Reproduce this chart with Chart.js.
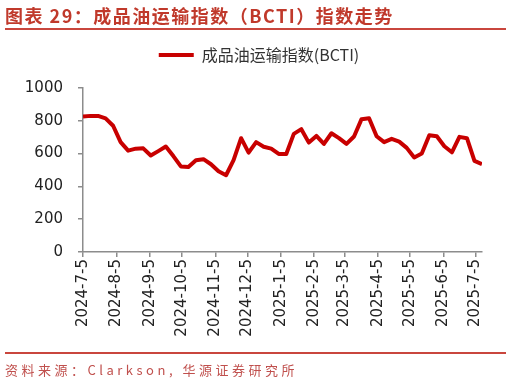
<!DOCTYPE html>
<html>
<head>
<meta charset="utf-8">
<script src="https://cdn.jsdelivr.net/npm/chart.js@4"></script>
<style>
  body { margin: 0; background: #fff; }
  #wrap { position: relative; width: 506px; height: 386px; overflow: hidden; }
  #chart { position: absolute; left: 0; top: 0; }
  .title { position: absolute; left: 5px; top: 2px; font: bold 18px "Noto Sans CJK SC"; color: #c0392b; letter-spacing: 1.5px; white-space: nowrap; }
  .rule { position: absolute; left: 5px; right: 0; height: 2px; background: #c9463d; }
  .source { position: absolute; left: 5px; top: 360px; font: 13px "Noto Sans CJK SC"; color: #c0504d; letter-spacing: 3.5px; white-space: nowrap; }
</style>
</head>
<body>
<div id="wrap">
  <canvas id="chart" width="506" height="386"></canvas>
  <div class="title">图表 29：成品油运输指数（BCTI）指数走势</div>
  <div class="rule" style="top:28px"></div>
  <div class="rule" style="top:352px"></div>
  <div class="source">资料来源：Clarkson, 华源证券研究所</div>
</div>
<script>
// weekly BCTI readings
const weeks = [
    '2024-07-05', '2024-07-12', '2024-07-19', '2024-07-26', '2024-08-02', '2024-08-09', '2024-08-16',
    '2024-08-23', '2024-08-30', '2024-09-06', '2024-09-13', '2024-09-20', '2024-09-27', '2024-10-04',
    '2024-10-11', '2024-10-18', '2024-10-25', '2024-11-01', '2024-11-08', '2024-11-15', '2024-11-22',
    '2024-11-29', '2024-12-06', '2024-12-13', '2024-12-20', '2024-12-27', '2025-01-03', '2025-01-10',
    '2025-01-17', '2025-01-24', '2025-01-31', '2025-02-07', '2025-02-14', '2025-02-21', '2025-02-28',
    '2025-03-07', '2025-03-14', '2025-03-21', '2025-03-28', '2025-04-04', '2025-04-11', '2025-04-18',
    '2025-04-25', '2025-05-02', '2025-05-09', '2025-05-16', '2025-05-23', '2025-05-30', '2025-06-06',
    '2025-06-13', '2025-06-20', '2025-06-27', '2025-07-04', '2025-07-11'
];
const bcti = [
    826, 830, 830, 815, 770, 670, 618, 630, 632, 588, 615, 643, 585, 522,
    518, 560, 566, 535, 492, 468, 560, 694, 606, 670, 642, 630, 598, 598,
    720, 749, 667, 708, 659, 724, 694, 659, 704, 810, 816, 706, 670, 690,
    673, 635, 576, 600, 712, 706, 645, 608, 702, 694, 556, 536
];
const tickLabels = [
    '2024-7-5', '2024-8-5', '2024-9-5', '2024-10-5', '2024-11-5', '2024-12-5', '2025-1-5',
    '2025-2-5', '2025-3-5', '2025-4-5', '2025-5-5', '2025-6-5', '2025-7-5'
];
const yTicks = [0, 200, 400, 600, 800, 1000];

function dayOf(s) {
    const p = s.split('-').map(Number);
    return Math.round((Date.UTC(p[0], p[1] - 1, p[2]) - Date.UTC(2024, 6, 5)) / 86400000);
}
const tickDays = tickLabels.map(dayOf);
const points = weeks.map((w, i) => ({ x: dayOf(w), y: bcti[i] }));

const axisColor = '#8c8c8c';
const tickFont = { family: 'DejaVu Sans', size: 15 };

// legend: fixed height, nudged right a bit
const legendTweak = {
    id: 'legendTweak',
    beforeInit(chart) {
        const fit = chart.legend.fit;
        chart.legend.fit = function() {
            fit.bind(chart.legend)();
            this.height = 51;
        };
    },
    afterLayout(chart) {
        chart.legend.left += 8;
        chart.legend.right += 8;
    }
};

new Chart(document.getElementById('chart').getContext('2d'), {
    type: 'line',
    data: {
        datasets: [{
            label: '成品油运输指数(BCTI)',
            data: points,
            borderColor: '#c80000',
            backgroundColor: '#c80000',
            borderWidth: 4,
            pointRadius: 0,
            tension: 0,
            borderJoinStyle: 'round'
        }]
    },
    options: {
        responsive: false,
        animation: false,
        layout: { padding: { left: 20, right: 24, top: 37, bottom: 34 } },
        plugins: {
            tooltip: { enabled: false },
            legend: {
                position: 'top',
                labels: {
                    boxWidth: 35,
                    boxHeight: 4,
                    padding: 10,
                    color: '#333',
                    font: { family: 'Noto Sans CJK SC', size: 16 },
                    generateLabels: chart => Chart.defaults.plugins.legend.labels.generateLabels(chart)
                        .map(l => Object.assign(l, { lineWidth: 0, fillStyle: '#c80000' }))
                }
            }
        },
        scales: {
            x: {
                type: 'linear',
                min: 0,
                max: dayOf(weeks[weeks.length - 1]),
                afterFit(scale) { scale.height = 100; },
                afterBuildTicks(scale) { scale.ticks = tickDays.map(v => ({ value: v })); },
                border: { color: axisColor, width: 1.5 },
                grid: { drawOnChartArea: false, drawTicks: true, tickLength: 5, color: axisColor, lineWidth: 1.5 },
                ticks: {
                    autoSkip: false,
                    maxRotation: 90,
                    minRotation: 90,
                    padding: 2,
                    color: '#222',
                    font: tickFont,
                    callback: v => tickLabels[tickDays.indexOf(v)]
                }
            },
            y: {
                min: 0,
                max: 1000,
                afterFit(scale) { scale.width = 63; },
                afterBuildTicks(scale) { scale.ticks = yTicks.map(v => ({ value: v })); },
                border: { color: axisColor, width: 1.5 },
                grid: { drawOnChartArea: false, drawTicks: true, tickLength: 5, color: axisColor, lineWidth: 1.5 },
                ticks: { padding: 15, color: '#222', font: tickFont, callback: v => String(v) }
            }
        }
    },
    plugins: [legendTweak]
});
</script>
</body>
</html>
